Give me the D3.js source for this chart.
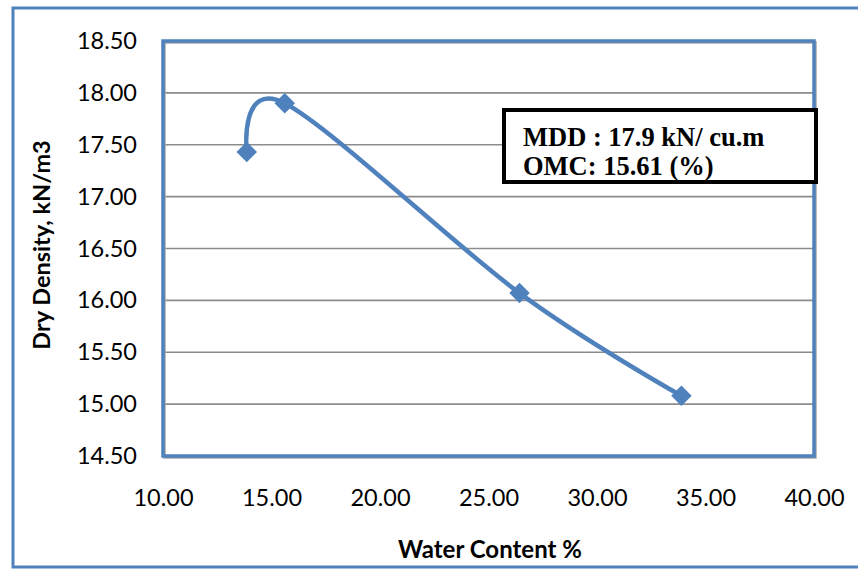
<!DOCTYPE html>
<html>
<head>
<meta charset="utf-8">
<script src="https://cdn.jsdelivr.net/npm/d3@7"></script>
<style>
  html, body { margin: 0; padding: 0; background: #fff; }
  svg { display: block; }
</style>
</head>
<body>
<svg id="chart" width="858" height="569"></svg>
<script>
// Compaction test results
const waterContent = [13.86, 15.61, 26.43, 33.89];   // %
const dryDensity   = [17.43, 17.9, 16.07, 15.08];    // kN/m3
const xTicks = [10, 15, 20, 25, 30, 35, 40];
const yTicks = [14.5, 15, 15.5, 16, 16.5, 17, 17.5, 18, 18.5];
const mdd = 17.9;
const omc = 15.61;
const noteLines = [`MDD : ${mdd} kN/ cu.m`, `OMC: ${omc} (%)`];
const xTitle = "Water Content %";
const yTitle = "Dry Density, kN/m3";

const blue = "#4f81bd";
const sans = "Lato, 'Open Sans', sans-serif";
const svg = d3.select("#chart");
const W = 858, H = 569;
const plot = { left: 163, right: 814, top: 41, bottom: 456 };

svg.append("rect").attr("width", W).attr("height", H).attr("fill", "#fff");

// chart area frame
svg.append("rect")
  .attr("x", 13).attr("y", 8).attr("width", W).attr("height", H - 10)
  .attr("fill", "none").attr("stroke", blue).attr("stroke-width", 3);

const x = d3.scaleLinear().domain([10, 40]).range([plot.left, plot.right]);
const y = d3.scaleLinear().domain([14.5, 18.5]).range([plot.bottom, plot.top]);

// horizontal gridlines
svg.append("g").selectAll("line").data(yTicks).join("line")
  .attr("x1", plot.left).attr("x2", plot.right)
  .attr("y1", d => y(d)).attr("y2", d => y(d))
  .attr("stroke", "#8c8c8c").attr("stroke-width", 1.6);

// plot area border with soft shadow
svg.append("rect")
  .attr("x", plot.left + 1.5).attr("y", plot.top + 1.5)
  .attr("width", plot.right - plot.left).attr("height", plot.bottom - plot.top)
  .attr("fill", "none").attr("stroke", "#a6a6a6").attr("stroke-width", 2.5);
svg.append("rect")
  .attr("x", plot.left).attr("y", plot.top)
  .attr("width", plot.right - plot.left).attr("height", plot.bottom - plot.top)
  .attr("fill", "none").attr("stroke", blue).attr("stroke-width", 3.5);

// axes (labels only, the frame acts as axis line)
const yAxis = d3.axisLeft(y).tickValues(yTicks).tickFormat(d3.format(".2f")).tickSize(0).tickPadding(26);
const gy = svg.append("g").attr("transform", `translate(${plot.left},0)`).call(yAxis);
const xAxis = d3.axisBottom(x).tickValues(xTicks).tickFormat(d3.format(".2f")).tickSize(0).tickPadding(33);
const gx = svg.append("g").attr("transform", `translate(0,${plot.bottom})`).call(xAxis);
[gx, gy].forEach(g => {
  g.select(".domain").remove();
  g.selectAll("text").attr("fill", "#000")
    .style("font-family", sans).style("font-size", "23.5px");
});

// smoothed compaction curve
const pts = waterContent.map((w, i) => [x(w), y(dryDensity[i])]);
svg.append("path")
  .attr("d", d3.line().curve(d3.curveCardinal.tension(0))(pts))
  .attr("fill", "none").attr("stroke", blue).attr("stroke-width", 4.5)
  .attr("stroke-linecap", "round");

// diamond markers
svg.append("g").selectAll("path").data(pts).join("path")
  .attr("d", d3.symbol(d3.symbolSquare, 210)())
  .attr("transform", d => `translate(${d[0]},${d[1]}) rotate(45)`)
  .attr("fill", blue);

// axis titles
svg.append("text")
  .attr("x", 490).attr("y", 558).attr("text-anchor", "middle")
  .style("font-family", sans).style("font-weight", "bold")
  .style("font-size", "24px").text(xTitle);
svg.append("text")
  .attr("transform", "translate(50,245) rotate(-90)").attr("text-anchor", "middle")
  .style("font-family", sans).style("font-weight", "bold")
  .style("font-size", "23.5px").text(yTitle);

// MDD / OMC note
svg.append("rect")
  .attr("x", 504).attr("y", 110).attr("width", 312).attr("height", 72)
  .attr("fill", "#fff").attr("stroke", "#000").attr("stroke-width", 4);
svg.append("g").selectAll("text").data(noteLines).join("text")
  .attr("x", 523).attr("y", (d, i) => 146 + i * 29)
  .style("font-family", "'Liberation Serif', 'Times New Roman', serif")
  .style("font-weight", "bold").style("font-size", "26.5px")
  .text(d => d);
</script>
</body>
</html>
